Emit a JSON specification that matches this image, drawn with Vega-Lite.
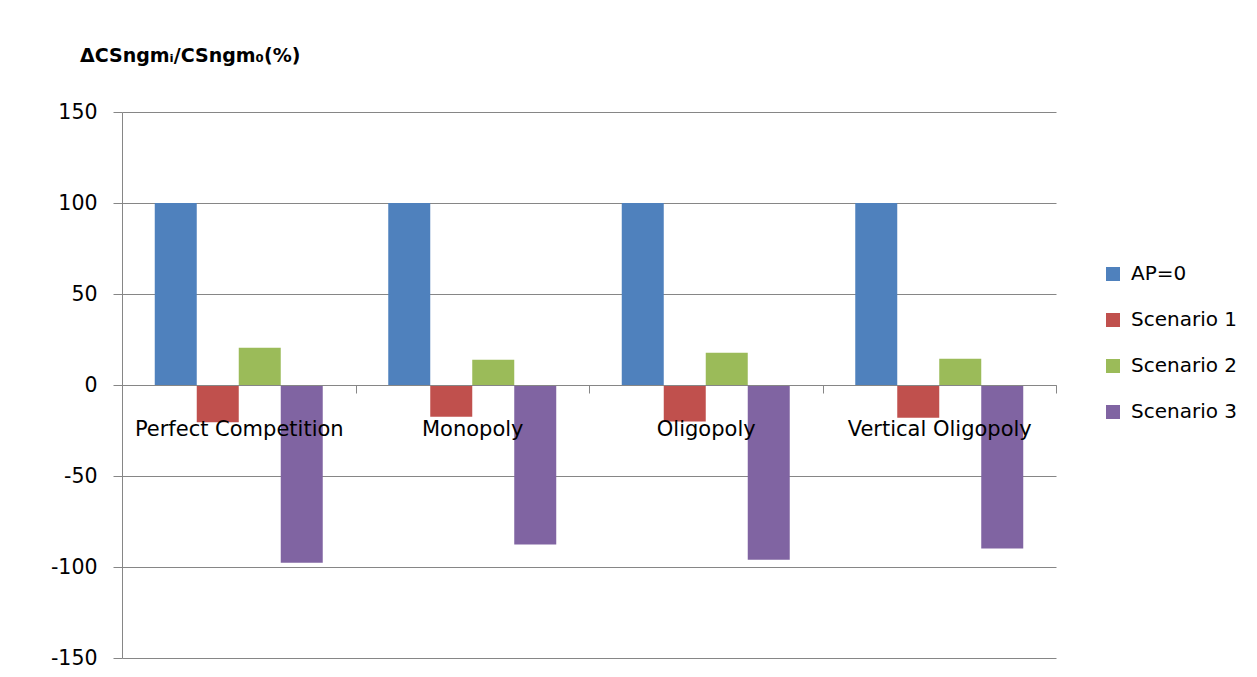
{
  "$schema": "https://vega.github.io/schema/vega-lite/v6.json",
  "autosize": {"type": "none"},
  "width": 934,
  "height": 546,
  "padding": {"left": 122, "top": 112, "right": 201, "bottom": 19},
  "background": "white",
  "title": {
    "text": "ΔCSngmᵢ/CSngm₀(%)",
    "anchor": "start",
    "frame": "group",
    "font": "DejaVu Sans",
    "fontSize": 19,
    "fontWeight": "bold",
    "color": "#000000",
    "dx": -42,
    "offset": 36
  },
  "data": {
    "values": [
      {"market": "Perfect Competition", "series": "AP=0", "value": 100},
      {"market": "Perfect Competition", "series": "Scenario 1", "value": -20.5},
      {"market": "Perfect Competition", "series": "Scenario 2", "value": 20.4},
      {"market": "Perfect Competition", "series": "Scenario 3", "value": -97.6},
      {"market": "Monopoly", "series": "AP=0", "value": 100},
      {"market": "Monopoly", "series": "Scenario 1", "value": -17.5},
      {"market": "Monopoly", "series": "Scenario 2", "value": 13.9},
      {"market": "Monopoly", "series": "Scenario 3", "value": -87.6},
      {"market": "Oligopoly", "series": "AP=0", "value": 100},
      {"market": "Oligopoly", "series": "Scenario 1", "value": -20.0},
      {"market": "Oligopoly", "series": "Scenario 2", "value": 17.7},
      {"market": "Oligopoly", "series": "Scenario 3", "value": -96.0},
      {"market": "Vertical Oligopoly", "series": "AP=0", "value": 100},
      {"market": "Vertical Oligopoly", "series": "Scenario 1", "value": -18.0},
      {"market": "Vertical Oligopoly", "series": "Scenario 2", "value": 14.4},
      {"market": "Vertical Oligopoly", "series": "Scenario 3", "value": -89.8}
    ]
  },
  "mark": {"type": "bar", "cornerRadius": 0},
  "encoding": {
    "x": {
      "field": "market",
      "type": "nominal",
      "sort": null,
      "scale": {"paddingInner": 0, "paddingOuter": 0},
      "axis": {
        "title": null,
        "orient": "bottom",
        "offset": -273,
        "zindex": 1,
        "labelAngle": 0,
        "labelLimit": 0,
        "labelFont": "DejaVu Sans",
        "labelFontSize": 21,
        "labelColor": "#000000",
        "labelPadding": 25,
        "tickBand": "extent",
        "tickSize": 8,
        "tickColor": "#868686",
        "domainColor": "#868686",
        "grid": false
      }
    },
    "xOffset": {
      "field": "series",
      "type": "nominal",
      "sort": null,
      "scale": {"paddingInner": 0, "paddingOuter": 0.78}
    },
    "y": {
      "field": "value",
      "type": "quantitative",
      "scale": {"domain": [-150, 150], "nice": false, "zero": false},
      "axis": {
        "title": null,
        "values": [-150, -100, -50, 0, 50, 100, 150],
        "labelExpr": "datum.value < 0 ? '-' + abs(datum.value) : '' + datum.value",
        "labelFont": "DejaVu Sans",
        "labelFontSize": 20.5,
        "labelColor": "#000000",
        "labelPadding": 16,
        "tickSize": 9,
        "tickColor": "#868686",
        "domainColor": "#868686",
        "grid": true,
        "gridColor": "#868686",
        "gridOpacity": 1
      }
    },
    "color": {
      "field": "series",
      "type": "nominal",
      "sort": null,
      "scale": {
        "domain": ["AP=0", "Scenario 1", "Scenario 2", "Scenario 3"],
        "range": ["#4F81BD", "#C0504D", "#9BBB59", "#8064A2"]
      },
      "legend": {
        "title": null,
        "orient": "none",
        "legendX": 981,
        "legendY": 152,
        "symbolType": "square",
        "symbolSize": 196,
        "symbolStrokeWidth": 0,
        "symbolOpacity": 1,
        "labelFont": "DejaVu Sans",
        "labelFontSize": 20,
        "labelColor": "#000000",
        "labelOffset": 8,
        "rowPadding": 26
      }
    }
  },
  "config": {
    "view": {"stroke": null}
  }
}
